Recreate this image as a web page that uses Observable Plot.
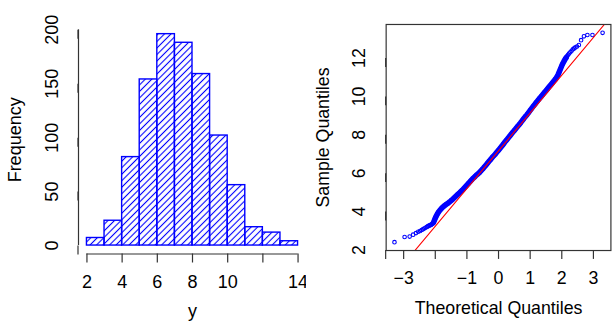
<!DOCTYPE html>
<html><head><meta charset="utf-8">
<script src="https://cdn.jsdelivr.net/npm/d3@7"></script>
<script src="https://cdn.jsdelivr.net/npm/@observablehq/plot@0.6"></script>
<style>
html,body{margin:0;padding:0;background:#fff;}
#wrap{position:relative;width:612px;height:324px;overflow:hidden;background:#fff;}
#left{position:absolute;left:0;top:0;}
#right{position:absolute;left:306px;top:0;}
</style></head><body>
<div id="wrap"><div id="left"></div><div id="right"></div></div>
<script>
// ---- Histogram data ----
const binStarts = [2, 3, 4, 5, 6, 7, 8, 9, 10, 11, 12, 13];
const binEnds   = [3, 4, 5, 6, 7, 8, 9, 10, 11, 12, 13, 14];
const counts    = [7, 23, 82, 154, 196, 188, 159, 102, 56, 17, 12, 4];
const histXTicks  = [2, 4, 6, 8, 10, 12, 14];
const histXLabels = ["2", "4", "6", "8", "10", "", "14"];
const histYTicks  = [0, 50, 100, 150, 200];
const histYLabels = ["0", "50", "100", "150", "200"];

// ---- Normal Q-Q data ----
const qqTheo = [-3.29,-2.97,-2.81,-2.70,-2.61,-2.54,-2.48,-2.43,-2.39,-2.35,-2.31,-2.27,-2.24,-2.21,-2.18,-2.15,-2.13,-2.10,-2.08,-2.06,
  -2.04,-2.02,-2.00,-1.98,-1.96,-1.94,-1.92,-1.90,-1.85,-1.80,-1.75,-1.70,-1.65,-1.60,-1.55,-1.50,-1.45,-1.40,-1.35,-1.30,
  -1.25,-1.20,-1.15,-1.10,-1.05,-1.00,-0.95,-0.90,-0.85,-0.80,-0.75,-0.70,-0.65,-0.60,-0.55,-0.50,-0.45,-0.40,-0.35,-0.30,
  -0.25,-0.20,-0.15,-0.10,-0.05,0.00,0.05,0.10,0.15,0.20,0.25,0.30,0.35,0.40,0.45,0.50,0.55,0.60,0.65,0.70,
  0.75,0.80,0.85,0.90,0.95,1.00,1.05,1.10,1.15,1.20,1.25,1.30,1.35,1.40,1.45,1.50,1.55,1.60,1.65,1.70,
  1.75,1.80,1.84,1.88,1.92,1.96,2.00,2.04,2.08,2.11,2.14,2.17,2.20,2.23,2.27,2.31,2.35,2.39,2.43,2.48,
  2.54,2.61,2.70,2.81,2.97,3.29];
const qqSample = [2.41,2.68,2.70,2.80,2.88,2.95,2.99,3.04,3.08,3.12,3.16,3.20,3.23,3.26,3.28,3.30,3.32,3.35,3.38,3.42,
  3.50,3.58,3.66,3.73,3.80,3.86,3.92,3.97,4.08,4.17,4.25,4.32,4.38,4.44,4.50,4.57,4.64,4.72,4.80,4.88,
  4.95,5.03,5.11,5.20,5.29,5.38,5.47,5.56,5.65,5.74,5.82,5.90,5.97,6.04,6.13,6.22,6.32,6.42,6.52,6.62,
  6.72,6.82,6.91,7.00,7.10,7.20,7.30,7.40,7.51,7.62,7.72,7.82,7.92,8.03,8.13,8.23,8.33,8.43,8.53,8.63,
  8.74,8.85,8.95,9.05,9.16,9.27,9.38,9.49,9.59,9.70,9.80,9.90,10.00,10.10,10.20,10.30,10.40,10.50,10.60,10.70,
  10.80,10.90,11.00,11.12,11.28,11.44,11.60,11.74,11.86,11.95,12.02,12.10,12.17,12.23,12.30,12.38,12.45,12.50,12.55,12.60,
  12.68,12.93,13.13,13.20,13.20,13.31];
const qqXTicks  = [-3, -2, -1, 0, 1, 2, 3];
const qqXLabels = ["\u22123", "", "\u22121", "0", "1", "2", "3"];
const qqYTicks  = [2, 4, 6, 8, 10, 12];
const qqYLabels = ["2", "4", "6", "8", "10", "12"];
const qqLineIntercept = 7.17;
const qqLineSlope = 1.966;

const FONT = "'Liberation Sans', Arial, Helvetica, sans-serif";
const style = {fontFamily: FONT, fontSize: "18px", background: "white", color: "black", overflow: "visible"};
const pad4 = (lo, hi) => { const p = 0.04 * (hi - lo); return [lo - p, hi + p]; };
const labMap = (ticks, labels) => { const m = new Map(ticks.map((t, i) => [t, labels[i]])); return d => m.get(d); };

// ---------- Histogram ----------
const bins = counts.map((c, i) => ({x1: binStarts[i], x2: binEnds[i], n: c}));
const hxDom = pad4(d3.min(binStarts), d3.max(binEnds));
const hyDom = pad4(0, d3.max(counts));
const hist = Plot.plot({
  width: 306, height: 324,
  marginLeft: 78, marginRight: 0, marginTop: 25.2, marginBottom: 70.5,
  style,
  x: {domain: hxDom},
  y: {domain: hyDom},
  marks: [
    Plot.rectY(bins, {x1: "x1", x2: "x2", y: "n", fill: "url(#hatch)", stroke: "blue", strokeWidth: 1.4}),
    Plot.ruleY([hyDom[0]], {x1: d3.min(histXTicks), x2: d3.max(histXTicks), stroke: "#333", strokeWidth: 1.2}),
    Plot.axisX({ticks: histXTicks, tickFormat: labMap(histXTicks, histXLabels), tickSize: 9, tickPadding: 12, label: null, stroke: "#333", strokeWidth: 1.2}),
    Plot.ruleX([hxDom[0]], {y1: d3.min(histYTicks), y2: d3.max(histYTicks), stroke: "#333", strokeWidth: 1.2}),
    Plot.axisY({ticks: histYTicks, tickFormat: labMap(histYTicks, histYLabels), tickSize: 9, tickPadding: 12, rotate: -90, textAnchor: "middle", lineAnchor: "bottom", label: null, stroke: "#333", strokeWidth: 1.2}),
    Plot.text(["y"], {frameAnchor: "bottom", dy: 63, lineAnchor: "bottom", fill: "black"}),
    Plot.text(["Frequency"], {frameAnchor: "left", dx: -57.5, rotate: -90, textAnchor: "middle", lineAnchor: "bottom", fill: "black"})
  ]
});
{
  const svg = d3.select(hist);
  const defs = svg.insert("defs", ":first-child");
  const p = defs.append("pattern").attr("id", "hatch").attr("patternUnits", "userSpaceOnUse")
    .attr("width", 4.6).attr("height", 10).attr("patternTransform", "rotate(45)");
  p.append("line").attr("x1", 2.3).attr("y1", 0).attr("x2", 2.3).attr("y2", 10)
    .attr("stroke", "blue").attr("stroke-width", 1.1);
}
document.getElementById("left").appendChild(hist);

// ---------- Normal Q-Q plot ----------
const pts = qqTheo.map((t, i) => ({t, s: qqSample[i]}));
const band = pts.filter(d => d.t >= -2.06 && d.t <= 2.14);
const qxDom = pad4(d3.min(qqTheo), d3.max(qqTheo));
const qyDom = pad4(d3.min(qqSample), d3.max(qqSample));
const refLine = qxDom.map(t => ({t, s: qqLineIntercept + qqLineSlope * t}));
const qq = Plot.plot({
  width: 310, height: 324,
  marginLeft: 80.7, marginRight: 1.6, marginTop: 24.3, marginBottom: 70.7,
  style,
  x: {domain: qxDom},
  y: {domain: qyDom},
  marks: [
    Plot.line(band, {x: "t", y: "s", stroke: "blue", strokeWidth: 5.6}),
    Plot.dot(pts, {x: "t", y: "s", r: 1.8, stroke: "blue", strokeWidth: 1.1}),
    Plot.line(refLine, {x: "t", y: "s", stroke: "red", strokeWidth: 1.1, clip: true}),
    Plot.frame({stroke: "#333", strokeWidth: 1.2}),
    Plot.axisX({ticks: qqXTicks, tickFormat: labMap(qqXTicks, qqXLabels), tickSize: 9, tickPadding: 12, label: null, stroke: "#333", strokeWidth: 1.2}),
    Plot.axisY({ticks: qqYTicks, tickFormat: labMap(qqYTicks, qqYLabels), tickSize: 9, tickPadding: 12, rotate: -90, textAnchor: "middle", lineAnchor: "bottom", label: null, stroke: "#333", strokeWidth: 1.2}),
    Plot.text(["Theoretical Quantiles"], {frameAnchor: "bottom", dy: 64, lineAnchor: "bottom", fill: "black"}),
    Plot.text(["Sample Quantiles"], {frameAnchor: "left", dx: -57.5, rotate: -90, textAnchor: "middle", lineAnchor: "bottom", fill: "black"})
  ]
});
document.getElementById("right").appendChild(qq);
</script>
</body></html>
